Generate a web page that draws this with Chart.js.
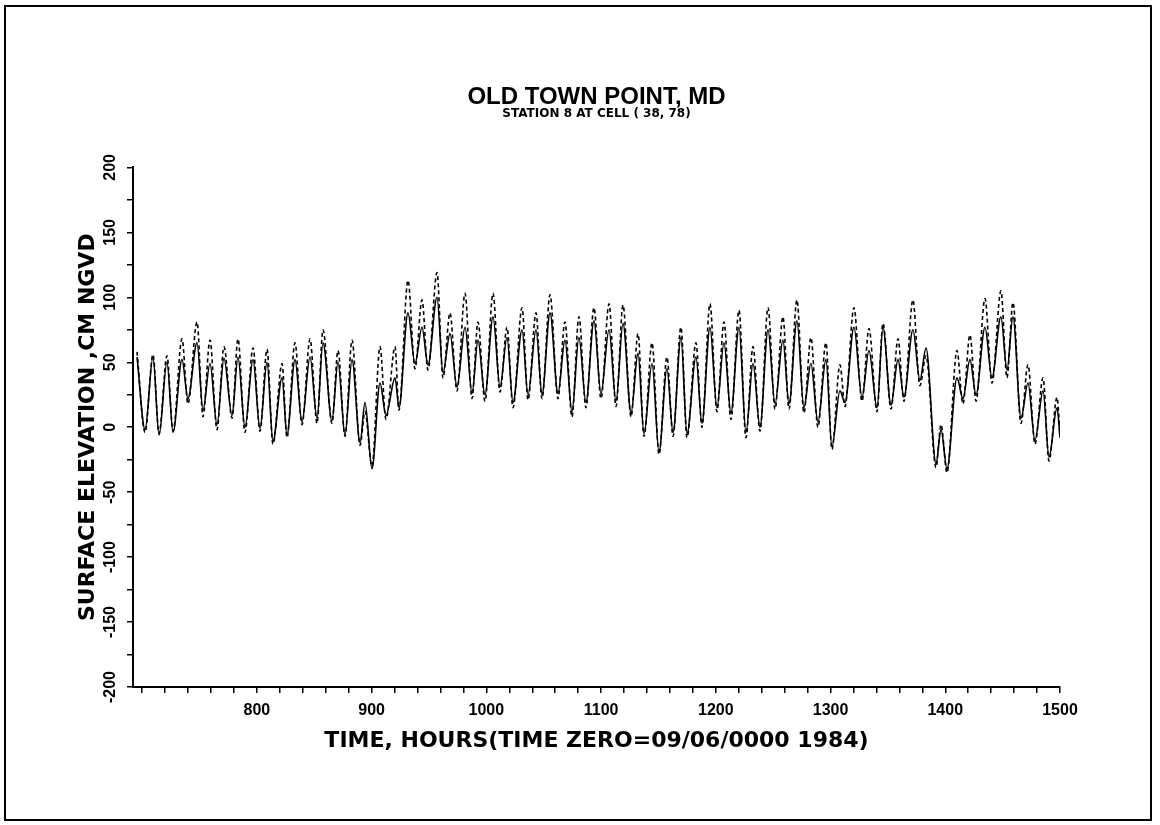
<!DOCTYPE html>
<html><head><meta charset="utf-8">
<script src="https://cdn.jsdelivr.net/npm/chart.js@4.4.0/dist/chart.umd.min.js"></script>
<style>
html,body{margin:0;padding:0;background:#fff;}
#wrap{position:relative;width:1160px;height:825px;overflow:hidden;}
#frame{position:absolute;left:4px;top:5px;width:1148px;height:816px;border:2px solid #000;box-sizing:border-box;pointer-events:none}
canvas{position:absolute;left:0;top:0}
</style></head><body>
<div id="wrap"><canvas id="c" width="1160" height="825"></canvas><div id="frame"></div></div>
<script>
// ---- data ----
const hours = [695.5,702.5,709.4,714.7,721.6,726.9,734.7,739.9,747.8,753,759.1,765.2,771.3,778.3,783.5,789.6,796.6,802.7,808.8,814,821.9,826.2,833.2,839.3,846.3,852.4,857.6,865.4,870.7,876.8,882.9,889.9,894.2,900.3,
907.3,912.5,920.4,923.8,931.7,937.8,943.9,949.1,957,962.2,968.3,974.4,981.4,987.5,992.7,998.8,1005.8,1011.9,1018,1023.2,1031.1,1036.3,1043.3,1048.5,1055.5,1062.4,1068.5,1074.6,1080.7,1086.8,1093.8,1099.9,
1106.9,1113,1119.1,1126.1,1132.2,1137.4,1144.4,1150.5,1157.4,1162.7,1169.6,1174.9,1182.7,1187.9,1194.9,1201,1207.1,1213.2,1220.2,1226.3,1232.4,1238.5,1245.5,1251.6,1258.5,1263.8,1270.7,1276.8,1282.9,1289,1296,1301.2,
1308.2,1312.6,1320.4,1327.4,1333.5,1340.5,1345.7,1352.7,1358.8,1364,1371.8,1377.9,1383.2,1391.9,1396.3,1401.5,1410.2,1415.4,1421.5,1426.8,1434.6,1440.7,1448.5,1453.8,1459,1466,1472.1,1478.2,1485.2,1490.4,1497.4,1500];

const solidSeries = [54,-2,54,-6,50,-4,52,22,65,13,49,2,53,9,54,0,52,-1,50,-11,38,-6,52,4,54,7,65,5,50,-6,52,-12,19,-32,
34,9,38,15,88,49,77,48,100,42,72,31,77,26,67,25,85,31,69,19,75,25,75,25,88,26,67,12,69,19,82,26,
75,20,80,11,57,-5,49,-19,45,-4,69,-5,54,3,77,15,65,11,77,-4,49,0,75,18,67,18,82,15,49,4,52,-15,
28,19,77,23,59,15,77,17,52,23,75,36,61,-28,-2,-32,38,22,52,25,77,38,85,44,85,7,34,-10,28,-23,15,-8];

const dashedSeries = [58,-4,56,-5,55,-3,68,18,81,8,67,-2,62,7,68,-4,61,-3,60,-13,49,-8,65,2,68,3,75,3,59,-7,67,-14,12,-30,
62,6,62,13,113,45,98,44,119,38,88,28,103,22,81,20,103,27,77,15,92,21,88,22,102,22,81,8,85,15,92,22,
95,16,94,8,72,-7,65,-21,54,-7,77,-8,65,0,95,12,81,6,90,-8,62,-3,92,14,85,14,98,11,69,0,65,-17,
48,16,92,20,76,12,80,14,68,20,98,32,55,-31,2,-35,59,18,71,20,99,34,105,38,96,3,48,-13,38,-26,23,-6];

const xMajorTicks = [800,900,1000,1100,1200,1300,1400,1500];
const xMinorTicks = [700,720,740,760,780,820,840,860,880,920,940,960,980,1020,1040,1060,1080,1120,1140,1160,1180,1220,1240,1260,1280,1320,1340,1360,1380,1420,1440,1460,1480];
const yMajorTicks = [-200,-150,-100,-50,0,50,100,150,200];
const yMinorTicks = [-175,-125,-75,-25,25,75,125,175];

const titleText = 'OLD TOWN POINT, MD';
const subtitleText = 'STATION 8 AT CELL ( 38, 78)';
const xTitleText = 'TIME, HOURS(TIME ZERO=09/06/0000 1984)';
const yTitleText = 'SURFACE ELEVATION ,CM NGVD';

// ---- chart ----
const FONT = '"Liberation Sans", Arial, Helvetica, sans-serif';
const WIDE = '"DejaVu Sans", "Liberation Sans", sans-serif';
const pts = ys => hours.map((h, i) => ({x: h, y: ys[i]}));
const allX = xMajorTicks.concat(xMinorTicks).sort((a, b) => a - b);
const allY = yMajorTicks.concat(yMinorTicks).sort((a, b) => a - b);

new Chart(document.getElementById('c'), {
  type: 'line',
  data: {
    datasets: [
      {label: 'solid', data: pts(solidSeries), borderColor: '#000', borderWidth: 1.6,
       pointRadius: 0, cubicInterpolationMode: 'monotone', fill: false},
      {label: 'dashed', data: pts(dashedSeries), borderColor: '#000', borderWidth: 1.6,
       borderDash: [4, 3], pointRadius: 0, cubicInterpolationMode: 'monotone', fill: false}
    ]
  },
  options: {
    responsive: false, animation: false, devicePixelRatio: 1,
    layout: {padding: {left: 0, right: 100, top: 0, bottom: 0}},
    plugins: {
      legend: {display: false},
      tooltip: {enabled: false},
      title: {display: true, text: titleText, fullSize: false, color: '#000',
              font: {family: FONT, size: 24, weight: 'bold', lineHeight: 1.1},
              padding: {top: 84, bottom: 0}},
      subtitle: {display: true, text: subtitleText, fullSize: false, color: '#000',
              font: {family: WIDE, size: 12, weight: 'bold', lineHeight: 1},
              padding: {top: -3, bottom: 48}}
    },
    scales: {
      x: {
        type: 'linear', min: 692, max: 1500,
        afterBuildTicks: s => { s.ticks = allX.map(v => ({value: v})); },
        ticks: {autoSkip: false, minRotation: 0, maxRotation: 0, color: '#000', padding: 8,
                font: {family: FONT, size: 16, weight: 'bold'},
                callback: v => xMajorTicks.includes(v) ? String(v) : ''},
        grid: {display: true, drawOnChartArea: false, drawTicks: true, tickLength: 6, color: '#000', lineWidth: 1.5},
        border: {display: true, color: '#000', width: 2},
        title: {display: true, text: xTitleText, color: '#000',
                font: {family: WIDE, size: 22, weight: 'bold', lineHeight: 1.2},
                padding: {top: 0, bottom: 71}},
        afterFit: s => { s.height = 138; s.paddingLeft = 0; s.paddingRight = 0; }
      },
      y: {
        type: 'linear', min: -200, max: 200,
        afterBuildTicks: s => { s.ticks = allY.map(v => ({value: v})); },
        ticks: {autoSkip: false, minRotation: 90, maxRotation: 90, crossAlign: 'center', padding: 0,
                color: '#000', font: {family: FONT, size: 16, weight: 'bold'},
                callback: v => yMajorTicks.includes(v) ? String(v) : ''},
        grid: {display: true, drawOnChartArea: false, drawTicks: true, tickLength: 6, color: '#000', lineWidth: 1.5},
        border: {display: true, color: '#000', width: 2},
        title: {display: true, text: yTitleText, color: '#000',
                font: {family: WIDE, size: 22, weight: 'bold', lineHeight: 1.2},
                padding: {top: 75, bottom: 0}},
        afterFit: s => { s.width = 133; s.paddingTop = 0; s.paddingBottom = 0; }
      }
    }
  }
});
</script>
</body></html>
